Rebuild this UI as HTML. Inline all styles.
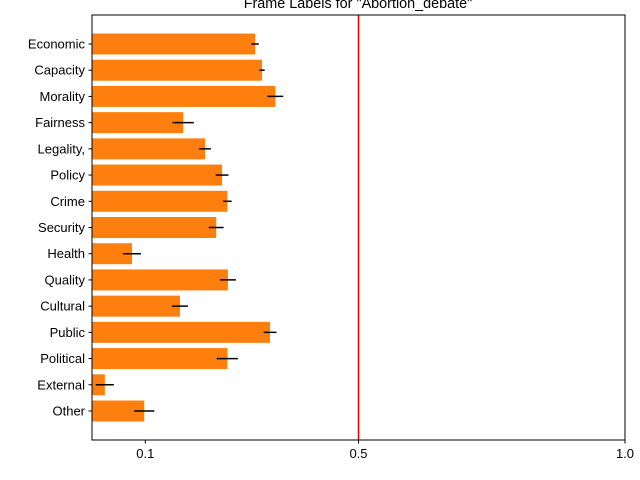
<!DOCTYPE html>
<html><head><meta charset="utf-8"><style>body{margin:0;background:#fff}svg{display:block;font-family:"Liberation Sans","DejaVu Sans",sans-serif}</style></head>
<body>
<svg id="c" width="640" height="480"></svg>
<script>
const categories=["Economic","Capacity","Morality","Fairness","Legality,","Policy","Crime","Security","Health","Quality","Cultural","Public","Political","External","Other"];
const values=[0.306,0.319,0.344,0.171,0.212,0.244,0.254,0.233,0.075,0.255,0.165,0.334,0.254,0.024,0.098];
const errors=[0.007,0.005,0.015,0.020,0.011,0.012,0.008,0.014,0.017,0.015,0.015,0.012,0.020,0.017,0.019];
const tickValues=[0.1,0.5,1.0];
const tickLabels=["0.1","0.5","1.0"];
const refLine=0.5;
const NS="http://www.w3.org/2000/svg";
const svg=document.getElementById('c');
const L=92,R=625,T=15,B=440;
const x=v=>L+v/1.0*(R-L);
const y0=44,step=(411-44)/14;
const y=i=>y0+i*step;
function mk(t,a,p){const e=document.createElementNS(NS,t);for(const k in a)e.setAttribute(k,a[k]);(p||svg).appendChild(e);return e;}
const title=mk('text',{x:358,y:8,'text-anchor':'middle','font-size':14.4});
title.textContent='Frame Labels for "Abortion_debate"';


categories.forEach((c,i)=>{
  const b=mk('rect',{x:L,y:y(i)-10.5,width:x(values[i])-L,height:21,fill:'#ff7f0e'});
  
  
  const e=mk('line',{x1:x(values[i]-errors[i]),x2:x(values[i]+errors[i]),y1:y(i),y2:y(i),stroke:'#000','stroke-width':1.5});
  
  
  mk('line',{x1:L-3.5,x2:L,y1:y(i),y2:y(i),stroke:'#000'});
  const t=mk('text',{x:L-7,y:y(i)+4.5,'text-anchor':'end','font-size':13});
  t.textContent=c;
  
  
});
const rl=mk('line',{x1:x(refLine),x2:x(refLine),y1:T,y2:B,stroke:'#e00000','stroke-width':1.5});


tickValues.forEach((v,i)=>{
  mk('line',{x1:x(v),x2:x(v),y1:B,y2:B+3.5,stroke:'#000'});
  const t=mk('text',{x:x(v),y:B+18,'text-anchor':'middle','font-size':13});
  t.textContent=tickLabels[i];
  
  
});
const f=mk('rect',{x:L,y:T,width:R-L,height:B-T,fill:'none',stroke:'#000','stroke-width':1});


</script>
</body></html>
